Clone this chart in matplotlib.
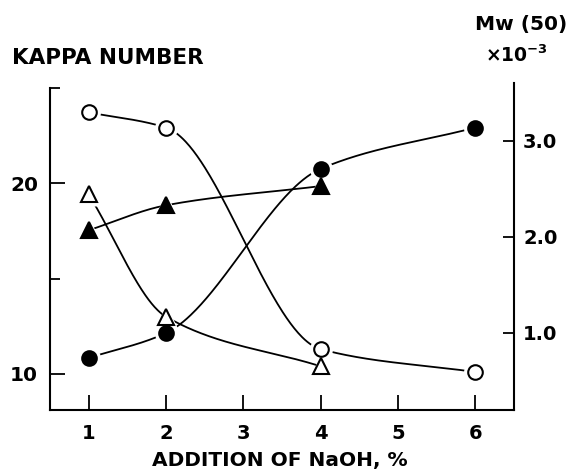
import numpy as np
import matplotlib.pyplot as plt

plt.rcParams['font.family'] = ['DejaVu Sans']
plt.rcParams['font.weight'] = 'bold'
plt.rcParams['axes.labelweight'] = 'bold'
plt.rcParams['mathtext.fontset'] = 'custom'
plt.rcParams['mathtext.rm'] = 'DejaVu Sans:bold'

# ---------------- data ----------------
naoh = [1, 2, 4, 6]
kappa_open = [23.7, 22.9, 11.3, 10.1]     # open circles, left axis
mw_filled = [0.74, 1.0, 2.71, 3.14]       # filled circles, right axis

naoh_tri = [1, 2, 4]
kappa_tri_open = [19.4, 13.0, 10.4]       # open triangles, left axis
mw_tri_filled = [2.07, 2.33, 2.53]        # filled triangles, right axis


def pchip(x, y, xs):
    # monotone cubic through the measured points (drawing only)
    x = np.asarray(x, float)
    y = np.asarray(y, float)
    h = np.diff(x)
    d = np.diff(y) / h
    m = np.zeros_like(y)
    m[0], m[-1] = d[0], d[-1]
    for k in range(1, len(x) - 1):
        if d[k - 1] * d[k] > 0:
            w1 = 2 * h[k] + h[k - 1]
            w2 = h[k] + 2 * h[k - 1]
            m[k] = (w1 + w2) / (w1 / d[k - 1] + w2 / d[k])
    idx = np.clip(np.searchsorted(x, xs) - 1, 0, len(x) - 2)
    t = (xs - x[idx]) / h[idx]
    h00 = 2 * t**3 - 3 * t**2 + 1
    h10 = t**3 - 2 * t**2 + t
    h01 = -2 * t**3 + 3 * t**2
    h11 = t**3 - t**2
    return (h00 * y[idx] + h10 * h[idx] * m[idx] +
            h01 * y[idx + 1] + h11 * h[idx] * m[idx + 1])


fig = plt.figure(figsize=(5.68, 4.72), dpi=100)
ax = fig.add_axes([0.088, 0.1314, 0.817, 0.6928])
ax2 = ax.twinx()

ax.set_xlim(0.5, 6.5)
ax.set_ylim(8.115, 25.24)
ax2.set_ylim(0.198, 3.604)

series = [
    (naoh, kappa_open, ax.transData, 'o', 'white', 10.5),
    (naoh, mw_filled, ax2.transData, 'o', 'black', 10.5),
    (naoh_tri, kappa_tri_open, ax.transData, '^', 'white', 11.5),
    (naoh_tri, mw_tri_filled, ax2.transData, '^', 'black', 11.5),
]

for xv, yv, tr, mk, fc, ms in series:
    xs = np.linspace(xv[0], xv[-1], 300)
    ax.plot(xs, pchip(xv, yv, xs), color='black', lw=1.3, transform=tr,
            zorder=2, clip_on=False)
    ax.plot(xv, yv, ls='none', marker=mk, ms=ms + 6, mfc='white', mec='none',
            transform=tr, zorder=3, clip_on=False)
    ax.plot(xv, yv, ls='none', marker=mk, ms=ms, mfc=fc, mec='black', mew=1.5,
            transform=tr, zorder=4, clip_on=False)

# spines
for s in ['top', 'right']:
    ax.spines[s].set_visible(False)
for s in ['top', 'left', 'bottom']:
    ax2.spines[s].set_visible(False)
for sp in [ax.spines['left'], ax.spines['bottom'], ax2.spines['right']]:
    sp.set_linewidth(1.5)
ax.spines['left'].set_bounds(8.115, 25)

# ticks
ax.set_xticks([1, 2, 3, 4, 5, 6])
ax.set_yticks([10, 20])
ax.set_yticks([15, 25], minor=True)
ax2.set_yticks([1.0, 2.0, 3.0])
ax2.set_yticklabels(['1.0', '2.0', '3.0'])
ax.tick_params(axis='x', direction='in', length=11, width=1.3, pad=10,
               labelsize=14)
ax.tick_params(axis='y', which='major', direction='in', length=11, width=1.3,
               pad=8.5, labelsize=14.5)
ax.tick_params(axis='y', which='minor', direction='in', length=7, width=1.3)
ax2.tick_params(axis='y', direction='in', length=8, width=1.3, pad=6.5,
                labelsize=14)

ax.set_xlabel('ADDITION OF NaOH, %', fontsize=14.5, va='center')
ax.xaxis.set_label_coords(0.496, -0.153)

fig.text(0.021, 0.877, 'KAPPA NUMBER', fontsize=15.5, va='center', ha='left')
fig.text(0.998, 0.949, 'Mw (50)', fontsize=14.5, va='center', ha='right')
fig.text(0.965, 0.883, r'×10$^{\mathregular{-3}}$', fontsize=13.5,
         va='center', ha='right')

fig.savefig('out.png', dpi=100)
